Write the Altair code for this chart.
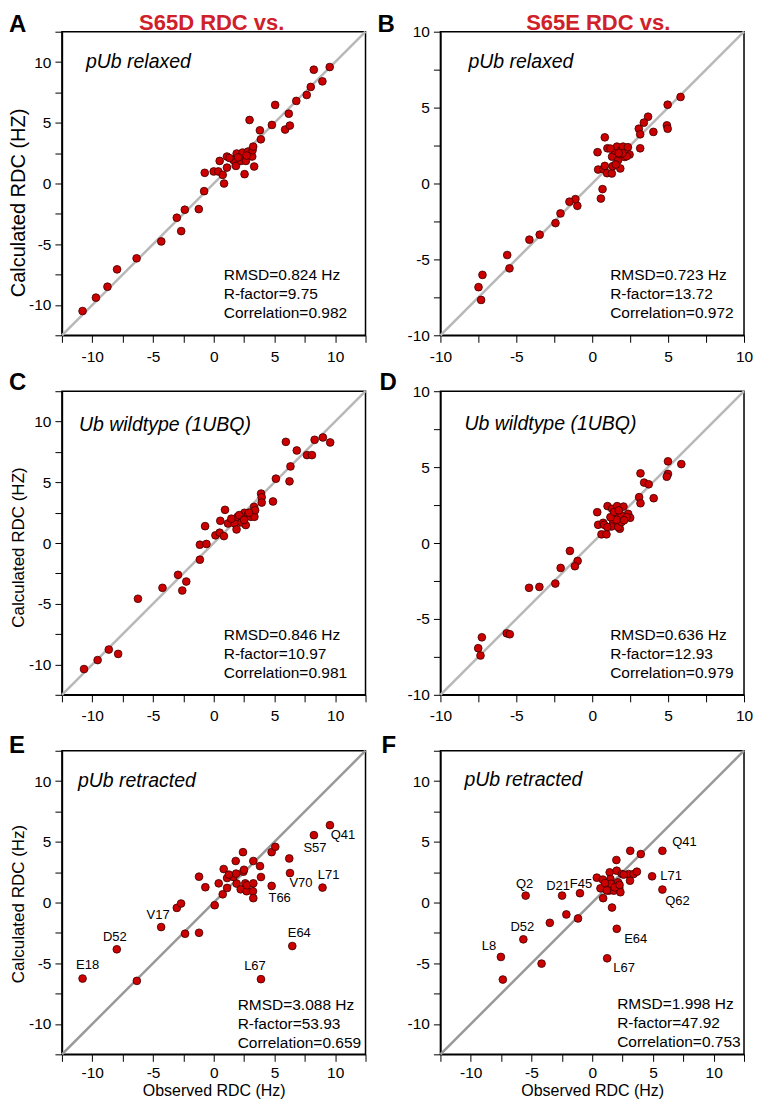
import altair as alt
import pandas as pd

FONT = "Liberation Sans"
RED = "#cc0000"
EDGE = "#3a0000"

# ---------------- data ----------------
A_obs = [-10.8, -9.7, -8.75, -7.96, -6.35, -4.32, -3.04, -2.68, -2.38, -1.23, -0.79, -0.74, 0.0, 0.38, 0.49,
         0.74, 0.85, 1.09, 1.09, 1.64, 1.83, 1.89, 2.24, 2.38, 2.54, 2.65, 2.82, 3.17, 3.2, 3.25, 3.33, 2.95,
         3.8, 3.88, 4.79, 5.06, 5.88, 6.18, 6.27, 6.8, 7.66, 7.99, 8.24, 8.95, 9.55, 2.0, 2.7, 1.3]
A_calc = [-10.5, -9.4, -8.5, -7.07, -6.16, -4.77, -2.82, -3.92, -2.16, -2.11, -0.63, 0.88, 0.99, 0.99, 1.86,
          0.71, 0.0, 1.31, 2.22, 1.92, 1.45, 2.47, 1.86, 2.55, 0.77, 1.86, 2.63, 2.22, 2.74, 3.04, 1.4, 5.23,
          4.38, 3.64, 4.82, 6.47, 4.44, 5.75, 4.77, 6.8, 7.29, 7.95, 9.37, 8.41, 9.59, 2.15, 2.3, 2.1]

B_obs = [5.82, 4.97, 4.92, 4.97, 3.68, 3.40, 4.03, 3.07, 3.16, 3.16, 0.83, 0.35, 0.39, 0.74, 0.83, 1.0, 0.98,
         1.29, 1.35, 1.31, 1.48, 1.63, 1.70, 1.85, 1.92, 2.03, 2.14, 2.35, 2.46, 2.27, 1.8, 0.68, 0.57, -0.98,
         -1.11, -1.50, -2.09, -2.42, -3.46, -4.14, -5.45, -5.60, -7.23, -7.49, -7.32, 1.55, 2.0, 1.2, 1.75]
B_calc = [5.70, 5.19, 3.83, 3.61, 4.40, 4.01, 3.40, 3.61, 3.24, 2.32, 3.04, 2.06, 0.92, 0.94, 1.16, 2.32, 0.68,
          0.66, 1.14, 1.77, 2.17, 2.43, 1.53, 0.99, 2.19, 2.43, 1.75, 2.39, 1.91, 1.8, 1.93, -0.37, -0.99, -1.47,
          -1.03, -1.20, -1.97, -2.61, -3.37, -3.70, -5.59, -4.71, -6.02, -6.83, -7.67, 1.25, 2.0, 2.3, 2.0]

C_obs = [-10.68, -9.56, -8.64, -7.87, -6.24, -4.22, -2.94, -2.59, -2.26, -1.14, -1.14, -0.6, -0.71, 0.14, 0.49,
         0.84, 0.93, 0.54, 1.17, 1.72, 1.88, 1.96, 2.29, 2.53, 2.64, 2.83, 3.05, 3.35, 3.32, 3.41, 3.9, 3.95,
         3.95, 4.88, 5.12, 5.94, 6.24, 6.32, 6.84, 7.68, 8.09, 8.31, 8.99, 9.59, 1.45, 2.1, 2.9, 2.5]
C_calc = [-10.38, -9.64, -8.77, -9.13, -4.59, -3.69, -2.62, -3.91, -3.17, -1.37, -0.14, -0.08, 1.39, 0.63, 0.85,
          0.57, 2.73, 1.83, 1.61, 1.61, 1.12, 2.16, 1.69, 2.49, 1.48, 2.35, 2.16, 2.16, 2.98, 2.7, 4.07, 3.77,
          3.33, 3.42, 5.30, 8.33, 5.08, 6.31, 7.62, 7.24, 7.24, 8.5, 8.69, 8.28, 2.0, 2.3, 2.5, 1.9]

D_obs = [5.87, 4.99, 4.99, 4.91, 3.18, 3.42, 3.72, 4.05, 3.09, 3.18, 0.33, 0.39, 0.72, 0.79, 0.61, 0.94, 1.01,
         1.31, 1.64, 2.06, 1.53, 1.38, 1.27, 1.82, 1.71, 1.93, 2.37, 2.5, 2.26, 1.93, 1.6, -1.47, -0.96, -1.14,
         -2.08, -2.43, -3.48, -4.16, -5.63, -5.43, -7.27, -7.51, -7.36, 1.2, 1.45, 2.1, 1.0, 1.75]
D_calc = [5.2, 5.38, 4.55, 4.37, 4.59, 3.98, 3.87, 2.95, 3.02, 2.62, 2.03, 1.2, 1.33, 1.2, 0.57, 0.57, 2.43,
          2.25, 2.43, 2.4, 1.77, 1.38, 1.09, 0.94, 1.05, 1.81, 1.92, 1.66, 1.7, 1.38, 1.53, -0.52, -1.18, -1.53,
          -1.64, -2.67, -2.89, -2.95, -5.95, -6.01, -6.21, -6.93, -7.41, 1.7, 2.05, 1.5, 1.05, 2.15]

E_obs = [-6.33, -3.04, -2.69, -2.36, -1.21, -1.21, -0.69, 0.08, 0.41, 0.74, 0.82, 1.1, 1.1, 1.62, 1.81, 1.84,
         1.89, 2.22, 2.41, 2.44, 2.49, 2.6, 2.71, 2.74, 3.23, 3.26, 3.26, 3.26, 3.81, 3.89, 4.77, 5.07, 6.22, 1.25]
E_calc = [-6.45, -0.44, -0.08, -2.57, -2.49, 2.13, 1.26, -0.22, 1.58, 0.68, 2.76, 2.02, 1.2, 2.1, 3.42, 2.38,
          1.56, 1.09, 4.15, 2.54, 2.7, 1.58, 0.93, 1.42, 0.93, 3.42, 1.58, 0.36, 3.0, 2.1, 4.15, 4.59, 3.63, 2.3]
E_lab_names = ["E18", "D52", "V17", "T66", "V70", "E64", "L67", "S57", "L71", "Q41"]
E_lab_obs = [-10.8, -7.98, -4.33, 4.77, 6.28, 6.47, 3.89, 8.25, 8.96, 9.57]
E_lab_calc = [-6.26, -3.85, -2.02, 1.37, 2.43, -3.58, -6.31, 5.55, 1.23, 6.37]

F_obs = [-7.36, -4.17, -3.49, -2.13, -1.17, 0.38, 0.68, 0.87, 0.9, 1.31, 1.44, 1.5, 1.36, 1.63, 1.77, 1.99, 2.02,
         2.13, 2.23, 2.32, 2.45, 3.0, 3.11, 3.13, 3.41, 3.68, 4.0, 1.55, 1.85, 1.2, 2.6, 1.05, 2.25]
F_calc = [-6.34, -5.03, -1.67, -0.98, -1.31, 2.05, 1.17, 1.89, 0.36, 1.45, 2.49, 1.94, 0.98, -0.41, 0.98, 3.5,
          2.62, 1.67, 1.2, 0.85, 2.35, 2.35, 1.8, 4.26, 2.35, 2.54, 3.99, 1.55, 1.25, 1.0, 2.3, 1.6, 1.45]
F_lab_names = ["L8", "D52", "Q2", "D21", "F45", "L67", "E64", "L71", "Q41", "Q62"]
F_lab_obs = [-7.52, -5.67, -5.48, -2.48, -1.01, 1.23, 2.02, 4.93, 5.78, 5.78]
F_lab_calc = [-4.48, -3.03, 0.57, 0.57, 0.77, -4.59, -2.16, 2.16, 4.26, 1.07]

A_stats = ["RMSD=0.824 Hz", "R-factor=9.75", "Correlation=0.982"]
B_stats = ["RMSD=0.723 Hz", "R-factor=13.72", "Correlation=0.972"]
C_stats = ["RMSD=0.846 Hz", "R-factor=10.97", "Correlation=0.981"]
D_stats = ["RMSD=0.636 Hz", "R-factor=12.93", "Correlation=0.979"]
E_stats = ["RMSD=3.088 Hz", "R-factor=53.93", "Correlation=0.659"]
F_stats = ["RMSD=1.998 Hz", "R-factor=47.92", "Correlation=0.753"]

WIDE = [-12.5, 12.5]
NARROW = [-10, 10]
WIDE_TICKS = [-12.5, -10, -7.5, -5, -2.5, 0, 2.5, 5, 7.5, 10, 12.5]
NARROW_TICKS = [-10, -7.5, -5, -2.5, 0, 2.5, 5, 7.5, 10]

# label offsets (pixels) for annotated residues
E_OFF = {"E18": (5, -14), "D52": (-2, -12), "V17": (-3, -12), "T66": (8, 12), "V70": (11, 10),
         "E64": (7, -13), "L67": (-6, -13), "S57": (1, 13), "L71": (6, -13), "Q41": (13, 10)}
F_OFF = {"L8": (-12, -11), "D52": (-1, -12), "Q2": (-1, -12), "D21": (-4, -10), "F45": (1, -9),
         "L67": (17, 10), "E64": (19, 10), "L71": (19, 0), "Q41": (22, -9), "Q62": (15, 11)}

W = 304
H = 304
LAB_EXPR = "datum.value % 5 === 0 ? '' + datum.value : ''"


def txt(t, x, y, size, **kw):
    return alt.Chart(pd.DataFrame({"t": [t]})).mark_text(
        font=FONT, fontSize=size, color=kw.pop("color", "black"), **kw
    ).encode(x=alt.value(x), y=alt.value(y), text="t:N")


def anchor_box(x, y):
    # invisible 1px box: fixes the chart's outer bounds so the page offset is predictable
    return alt.Chart(pd.DataFrame({"t": [0]})).mark_rect(opacity=0).encode(
        x=alt.value(x), x2=alt.value(x + 1), y=alt.value(y), y2=alt.value(y + 1))


def panel(obs, calc, dom, ticks, caption, cap_xy, stats, stats_xy, letter, letter_xy,
          header=None, header_x=152, ytitle=None, ytitle_size=17, ytitle_x=-38, ytitle_y=152,
          xtitle=None, line_color="#b8b8b8", lab=None, off=None, anchor=False):
    pts = pd.DataFrame({"obs": obs, "calc": calc})
    diag = pd.DataFrame({"obs": dom, "calc": dom})
    sc = alt.Scale(domain=dom, nice=False, zero=False)
    common = dict(values=ticks, tickCount=40, labelExpr=LAB_EXPR, tickSize=7, tickColor="black", tickWidth=1,
                  domainColor="black", domainWidth=1.5, labelFont=FONT, labelFontSize=15.5,
                  labelColor="black", labelFlush=False, labelOverlap=False, grid=False,
                  titleFont=FONT, titleFontWeight="normal", titleColor="black")
    if xtitle:
        xaxis = alt.Axis(title=xtitle, titleFontSize=16, titleY=41, titleBaseline="alphabetic",
                         labelPadding=4, **common)
    else:
        xaxis = alt.Axis(title=None, labelPadding=7, **common)
    if ytitle:
        yaxis = alt.Axis(title=ytitle, titleFontSize=ytitle_size, titleX=ytitle_x, titleY=ytitle_y,
                         titleBaseline="alphabetic", labelPadding=4, **common)
    else:
        yaxis = alt.Axis(title=None, labelPadding=4, **common)

    line = alt.Chart(diag).mark_line(color=line_color, strokeWidth=2.5).encode(
        x=alt.X("obs:Q", scale=sc, axis=xaxis), y=alt.Y("calc:Q", scale=sc, axis=yaxis))
    layers = [line]
    all_pts = pts
    if lab is not None:
        names, lo, lc = lab
        lab_df = pd.DataFrame({"obs": lo, "calc": lc, "name": names})
        all_pts = pd.concat([pts, lab_df[["obs", "calc"]]], ignore_index=True)
    dots = alt.Chart(all_pts).mark_circle(size=60, color=RED, stroke=EDGE, strokeWidth=0.8, opacity=1).encode(
        x=alt.X("obs:Q", scale=sc), y=alt.Y("calc:Q", scale=sc))
    layers.append(dots)
    if lab is not None:
        for nm in lab[0]:
            dx, dy = off[nm]
            layers.append(
                alt.Chart(lab_df).transform_filter(alt.datum.name == nm).mark_text(
                    font=FONT, fontSize=13, color="black", align="center", baseline="middle", dx=dx, dy=dy
                ).encode(x=alt.X("obs:Q", scale=sc), y=alt.Y("calc:Q", scale=sc), text="name:N"))
    layers.append(txt(caption, cap_xy[0], cap_xy[1], 19.5, fontStyle="italic", align="left",
                      baseline="alphabetic"))
    layers.append(txt("\n".join(stats), stats_xy[0], stats_xy[1], 15.5, align="left", baseline="alphabetic",
                      lineBreak="\n", lineHeight=stats_xy[2]))
    layers.append(txt(letter, letter_xy[0], letter_xy[1], 24, fontWeight="bold", align="left",
                      baseline="alphabetic"))
    if header:
        layers.append(txt(header, header_x, -2, 22, fontWeight="bold", align="center", baseline="alphabetic",
                          color="#cf2129"))
    if anchor:
        layers.append(anchor_box(-60, -40))
    return alt.layer(*layers).properties(width=W, height=H)


pA = panel(A_obs, A_calc, WIDE, WIDE_TICKS, "pUb relaxed", (24, 36), A_stats, (162, 249, 19), "A", (-53, 0),
           header="S65D RDC vs.", header_x=150, ytitle="Calculated RDC (HZ)", ytitle_size=20, ytitle_x=-37,
           ytitle_y=171, anchor=True)
pB = panel(B_obs, B_calc, NARROW, NARROW_TICKS, "pUb relaxed", (28, 36), B_stats, (170, 249, 19), "B", (-63, 0),
           header="S65E RDC vs.", header_x=158)
pC = panel(C_obs, C_calc, WIDE, WIDE_TICKS, "Ub wildtype (1UBQ)", (17, 40), C_stats, (162, 249, 19), "C", (-53, -1),
           ytitle="Calculated RDC (HZ)", ytitle_size=17, ytitle_x=-38, ytitle_y=156)
pD = panel(D_obs, D_calc, NARROW, NARROW_TICKS, "Ub wildtype (1UBQ)", (24, 39), D_stats, (170, 249, 19), "D",
           (-61, -1))
pE = panel(E_obs, E_calc, WIDE, WIDE_TICKS, "pUb retracted", (16, 36), E_stats, (176, 260, 18.7), "E", (-53, 2),
           ytitle="Calculated RDC (Hz)", ytitle_size=17, ytitle_x=-38, ytitle_y=153,
           xtitle="Observed RDC (Hz)", line_color="#999999", lab=(E_lab_names, E_lab_obs, E_lab_calc), off=E_OFF)
pF = panel(F_obs, F_calc, WIDE, WIDE_TICKS, "pUb retracted", (24, 35), F_stats, (177, 259, 18.7), "F", (-59, 2),
           xtitle="Observed RDC (Hz)", line_color="#999999", lab=(F_lab_names, F_lab_obs, F_lab_calc), off=F_OFF)

chart = alt.concat(pA, pB, pC, pD, pE, pF, columns=2, spacing={"row": 56, "column": 75},
                   bounds="flush").properties(
    padding={"left": -7, "top": -18, "right": 0, "bottom": 0}
).configure_view(stroke="black", strokeWidth=1.5)

chart.save("out.html", embed_options={"renderer": "svg", "actions": False})
